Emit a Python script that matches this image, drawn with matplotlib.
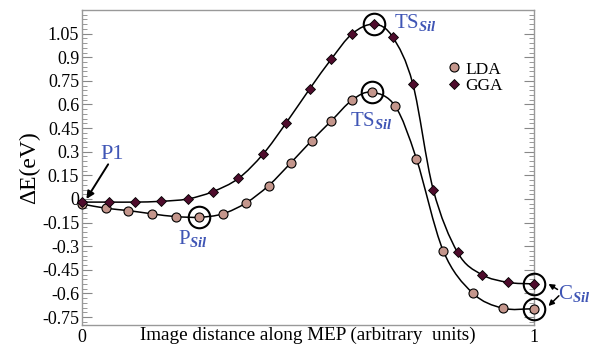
import matplotlib
matplotlib.use("Agg")
import matplotlib.pyplot as plt
import numpy as np
from matplotlib.path import Path
from matplotlib.patches import PathPatch

plt.rcParams['font.family'] = ['Liberation Serif', 'DejaVu Serif']
plt.rcParams['mathtext.fontset'] = 'custom'
plt.rcParams['mathtext.rm'] = 'Liberation Serif'
plt.rcParams['mathtext.it'] = 'Liberation Serif:italic:bold'

# data
lda_x = [0.0, 0.053, 0.103, 0.156, 0.207, 0.260, 0.311, 0.363, 0.413, 0.462,
         0.508, 0.552, 0.598, 0.641, 0.693, 0.740, 0.799, 0.864, 0.931, 1.0]
lda_e = [-0.032, -0.059, -0.074, -0.095, -0.112, -0.116, -0.095, -0.025, 0.085, 0.229,
         0.370, 0.497, 0.629, 0.678, 0.589, 0.254, -0.328, -0.597, -0.694, -0.698]
gga_x = [0.0, 0.060, 0.117, 0.175, 0.234, 0.289, 0.346, 0.401, 0.451, 0.504,
         0.552, 0.598, 0.646, 0.687, 0.732, 0.777, 0.831, 0.884, 0.943, 1.0]
gga_e = [-0.02, -0.02, -0.02, -0.015, 0.0, 0.046, 0.13, 0.286, 0.48, 0.70,
         0.89, 1.05, 1.11, 1.03, 0.73, 0.06, -0.34, -0.48, -0.53, -0.54]

yticks = [1.05, 0.9, 0.75, 0.6, 0.45, 0.3, 0.15, 0, -0.15, -0.3, -0.45, -0.6, -0.75]
ytick_labels = ['1.05', '0.9', '0.75', '0.6', '0.45', '0.3', '0.15', '0',
                '-0.15', '-0.3', '-0.45', '-0.6', '-0.75']

lda_col = '#c4968c'
gga_col = '#4e0c2c'
blue = '#3f55b5'


def smooth_path(x, y):
    # Catmull-Rom curve through the points, drawn as bezier segments
    x = np.asarray(x); y = np.asarray(y)
    px = np.concatenate([[2*x[0]-x[1]], x, [2*x[-1]-x[-2]]])
    py = np.concatenate([[2*y[0]-y[1]], y, [2*y[-1]-y[-2]]])
    verts = [(x[0], y[0])]
    codes = [Path.MOVETO]
    for i in range(1, len(px)-2):
        c1 = (px[i] + (px[i+1]-px[i-1])/6, py[i] + (py[i+1]-py[i-1])/6)
        c2 = (px[i+1] - (px[i+2]-px[i])/6, py[i+1] - (py[i+2]-py[i])/6)
        verts += [c1, c2, (px[i+1], py[i+1])]
        codes += [Path.CURVE4]*3
    return Path(verts, codes)


fig = plt.figure(figsize=(5.98, 3.46), dpi=100)
ax = fig.add_axes([0.137, 0.061, 0.756, 0.910])

for xs, ys in [(lda_x, lda_e), (gga_x, gga_e)]:
    ax.add_patch(PathPatch(smooth_path(xs, ys), fill=False, lw=1.1, color='black', zorder=2))

ax.plot(lda_x, lda_e, 'o', ms=6.5, mfc=lda_col, mec='black', mew=0.8, zorder=3,
        label='LDA', clip_on=False)
ax.plot(gga_x, gga_e, 'D', ms=5.5, mfc=gga_col, mec='black', mew=0.6, zorder=3,
        label='GGA', clip_on=False)

# rings around the special points
rings = [(lda_x[5], lda_e[5]), (lda_x[13], lda_e[13]), (gga_x[12], gga_e[12]),
         (lda_x[-1], lda_e[-1]), (gga_x[-1], gga_e[-1])]
for rx, ry in rings:
    ax.plot(rx, ry, 'o', ms=15.5, mfc='none', mec='black', mew=1.5, zorder=4, clip_on=False)

arrow = dict(arrowstyle='-|>', color='black', shrinkA=0, shrinkB=0)

ax.text(0.040, 0.28, 'P1', color=blue, fontsize=16, ha='left', va='center')
ax.annotate('', xy=(0.010, 0.0), xytext=(0.058, 0.22),
            arrowprops=dict(arrow, lw=1.4, mutation_scale=11))
ax.text(0.213, -0.25, r'P$_{\mathit{Sil}}$', color=blue, fontsize=15, ha='left', va='center')
ax.text(0.69, 1.12, r'TS$_{\mathit{Sil}}$', color=blue, fontsize=15, ha='left', va='center')
ax.text(0.592, 0.50, r'TS$_{\mathit{Sil}}$', color=blue, fontsize=15, ha='left', va='center')
ax.text(1.052, -0.60, r'C$_{\mathit{Sil}}$', color=blue, fontsize=15, ha='left', va='center',
        clip_on=False)
ax.annotate('', xy=(1.032, -0.54), xytext=(1.052, -0.575),
            arrowprops=dict(arrow, lw=1.1, mutation_scale=8), annotation_clip=False)
ax.annotate('', xy=(1.032, -0.68), xytext=(1.055, -0.615),
            arrowprops=dict(arrow, lw=1.1, mutation_scale=8), annotation_clip=False)

ax.set_xlim(0, 1)
ax.set_ylim(-0.8, 1.2)
ax.set_xticks([0, 1])
ax.set_xticklabels(['0', '1'])
ax.set_yticks(yticks)
ax.set_yticklabels(ytick_labels)
ax.set_yticks(np.arange(-0.78, 1.2, 0.03), minor=True)
ax.tick_params(axis='x', length=0, labelsize=13, pad=3)
ax.tick_params(axis='y', which='major', direction='in', length=7, width=0.8,
               color='#888888', right=True, labelsize=13, pad=2)
ax.tick_params(axis='y', which='minor', direction='in', length=3.5, width=0.6,
               color='#888888', right=True)
for s in ax.spines.values():
    s.set_color('#999999')
    s.set_linewidth(1.0)

ax.set_xlabel('Image distance along MEP (arbitrary  units)', fontsize=13.8, labelpad=-14)
ax.set_ylabel('ΔE(eV)', fontsize=17, labelpad=1)

ax.legend(loc='upper left', bbox_to_anchor=(0.808, 0.837), frameon=False, fontsize=12.5,
          handletextpad=0.25, labelspacing=0.0, handlelength=0.8, borderpad=0,
          borderaxespad=0)

fig.savefig('out.png', dpi=100)
